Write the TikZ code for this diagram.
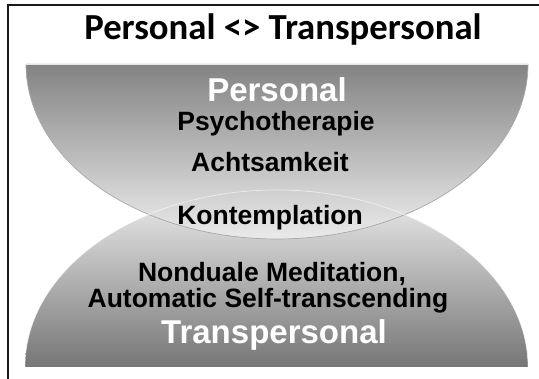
\documentclass[tikz,border=0pt]{standalone}
\usepackage{fontspec}
\setmainfont{Liberation Sans}
\newfontfamily\calibfont{Carlito}
\definecolor{dk}{HTML}{767676}
\definecolor{lt}{HTML}{EEEEEE}
\definecolor{edge}{HTML}{A8A8A8}
\tikzset{
  lbl/.style={font=\fontsize{26.5}{30}\selectfont\bfseries, text=black, inner sep=0pt, anchor=base},
  wlbl/.style={font=\fontsize{33}{36}\selectfont\bfseries, text=white, inner sep=0pt, anchor=base},
  ttl/.style={font=\calibfont\bfseries\fontsize{36.7}{40}\selectfont, text=black, inner sep=0pt, anchor=base},
}
\begin{document}
\begin{tikzpicture}[x=1pt,y=-1pt]
\useasboundingbox (0,0) rectangle (539,379);
\fill[white] (0,0) rectangle (539,379);
% frame
\draw[line width=1.8pt, black!90] (539,5) -- (8,5) -- (8,379);
% bottom dome
\shade[top color=lt, bottom color=dk] (25,367) arc[start angle=180, end angle=360, x radius=251.5, y radius=177] -- cycle;
% top bowl
\shade[top color=dk, bottom color=lt, fill opacity=0.9] (26,64) arc[start angle=180, end angle=0, x radius=251, y radius=175] -- cycle;
\draw[edge, line width=0.7pt] (26,64) arc[start angle=180, end angle=0, x radius=251, y radius=175];
\draw[white, opacity=0.6, line width=0.7pt] (25,367) arc[start angle=180, end angle=360, x radius=251.5, y radius=177];
\draw[white, opacity=0.8, line width=0.6pt] (26,64) -- (528,64);
% texts
\node[ttl] (title) at (283,40) {Personal <> Transpersonal};
\node[wlbl] (pers) at (277,102) {Personal};
\node[lbl] (psy) at (276,131) {Psychotherapie};
\node[lbl] (acht) at (270,172) {Achtsamkeit};
\node[lbl] (kont) at (270,225) {Kontemplation};
\node[lbl] (nond) at (272,282) {Nonduale Meditation,};
\node[lbl] (auto) at (268,308) {Automatic Self-transcending};
\node[wlbl] (trans) at (274,344) {Transpersonal};
\end{tikzpicture}
\end{document}
